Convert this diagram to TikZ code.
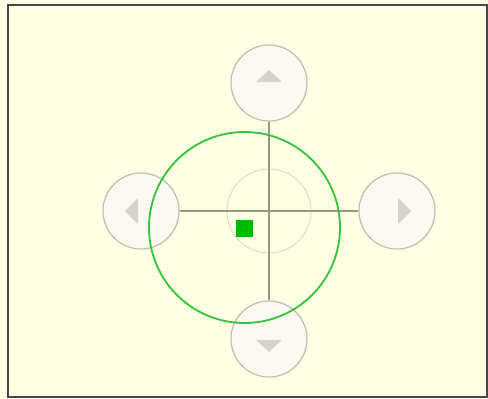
\documentclass[tikz,border=0pt]{standalone}
\begin{document}
\begin{tikzpicture}[x=1pt,y=-1pt,
  btn/.style={circle,draw=btnd,fill=btnf,line width=1.2pt,minimum size=76pt,inner sep=0pt},
  axis/.style={draw=axc,line width=1.1pt}]
\definecolor{bg}{RGB}{255,255,230}
\definecolor{frm}{RGB}{70,70,70}
\definecolor{grn}{RGB}{55,195,55}
\definecolor{sq}{RGB}{0,185,0}
\definecolor{axc}{RGB}{150,150,130}
\definecolor{btnd}{RGB}{190,188,175}
\definecolor{btnf}{RGB}{250,250,242}
\definecolor{trif}{RGB}{212,212,205}
\definecolor{inr}{RGB}{225,222,200}
\useasboundingbox (0,0) rectangle (488,399);
\fill[bg] (0,0) rectangle (488,399);
\draw[frm,line width=1.5pt] (8,5) rectangle (487,397);
% faint inner circle
\node[circle,draw=inr,line width=1.1pt,minimum size=84pt,inner sep=0pt] (c) at (269,211) {};
% buttons
\node[btn] (u) at (269,83) {};
\node[btn] (d) at (269,339) {};
\node[btn] (l) at (141,211) {};
\node[btn] (r) at (397,211) {};
% cross
\draw[axis] (l) -- (r);
\draw[axis] (u) -- (d);
% triangles
\fill[trif] ([shift={(-13,-1)}]u.center) -- ([shift={(0,-13)}]u.center) -- ([shift={(13,-1)}]u.center) -- cycle;
\fill[trif] ([shift={(-13,1)}]d.center) -- ([shift={(0,13)}]d.center) -- ([shift={(13,1)}]d.center) -- cycle;
\fill[trif] ([shift={(-3,-13)}]l.center) -- ([shift={(-16,0)}]l.center) -- ([shift={(-3,13)}]l.center) -- cycle;
\fill[trif] ([shift={(1,-13)}]r.center) -- ([shift={(14,0)}]r.center) -- ([shift={(1,13)}]r.center) -- cycle;
% green circle and square
\node[circle,draw=grn,line width=1.8pt,minimum size=191pt,inner sep=0pt] (g) at (244.5,227.5) {};
\node[fill=sq,minimum size=17pt,inner sep=0pt] (s) at (244.5,228) {};
\end{tikzpicture}
\end{document}
